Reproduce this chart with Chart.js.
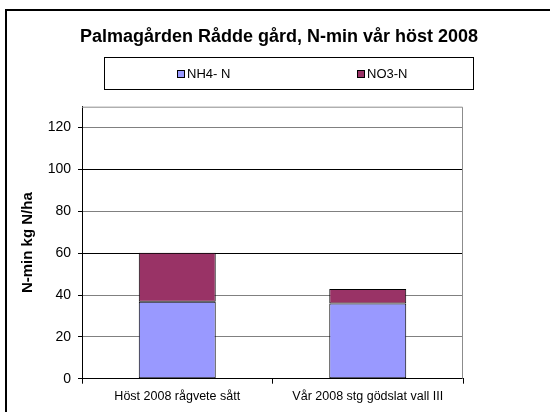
<!DOCTYPE html>
<html>
<head>
<meta charset="utf-8">
<script src="https://cdn.jsdelivr.net/npm/chart.js@4/dist/chart.umd.min.js"></script>
<style>
  html, body { margin: 0; padding: 0; background: #fff; }
  #c { display: block; }
</style>
</head>
<body>
<canvas id="c" width="550" height="412"></canvas>
<script>
const categories = ['Höst 2008 rågvete sått', 'Vår 2008 stg gödslat vall III'];
const seriesLabels = ['NH4- N', 'NO3-N'];
const nh4Values = [36.8, 36.0];
const no3Values = [23.4, 6.9];
const yTickValues = [0, 20, 40, 60, 80, 100, 120];
const yMax = 130;
const titleText = 'Palmagården Rådde gård, N-min vår höst 2008';
const yTitleText = 'N-min kg N/ha';

const FONT = "Arial, 'Liberation Sans', sans-serif";

const framePlugin = {
  id: 'frame',
  beforeDraw(chart) {
    const ctx = chart.ctx;
    ctx.save();
    ctx.fillStyle = '#fff';
    ctx.fillRect(0, 0, chart.width, chart.height);
    ctx.strokeStyle = '#000';
    ctx.lineWidth = 2;
    ctx.strokeRect(6, 10, 600, 500);
    ctx.restore();
  },
  afterDatasetsDraw(chart) {
    const a = chart.chartArea;
    const ctx = chart.ctx;
    ctx.save();
    ctx.strokeStyle = '#8c8c8c';
    ctx.lineWidth = 1;
    ctx.beginPath();
    ctx.moveTo(a.left, a.top + 0.5);
    ctx.lineTo(a.right - 0.5, a.top + 0.5);
    ctx.lineTo(a.right - 0.5, a.bottom);
    ctx.stroke();
    ctx.restore();
  }
};

const legendPlugin = {
  id: 'boxLegend',
  afterDraw(chart) {
    const ctx = chart.ctx;
    const box = { x: 104.5, y: 57.5, w: 369, h: 32 };
    const itemX = [177, 357];
    ctx.save();
    ctx.strokeStyle = '#000';
    ctx.lineWidth = 1;
    ctx.strokeRect(box.x, box.y, box.w, box.h);
    ctx.font = '13px ' + FONT;
    ctx.textBaseline = 'middle';
    chart.data.datasets.forEach((ds, i) => {
      const mx = itemX[i];
      const my = 70;
      ctx.fillStyle = ds.backgroundColor;
      ctx.fillRect(mx + 0.5, my + 0.5, 7, 7);
      ctx.strokeStyle = '#000';
      ctx.strokeRect(mx + 0.5, my + 0.5, 7, 7);
      ctx.fillStyle = '#000';
      ctx.fillText(ds.label, mx + 10, 74);
    });
    ctx.restore();
  }
};

new Chart(document.getElementById('c'), {
  type: 'bar',
  data: {
    labels: categories,
    datasets: [
      {
        label: seriesLabels[0],
        data: nh4Values,
        backgroundColor: '#9999FF',
        borderColor: '#000',
        borderWidth: 1,
        borderSkipped: false,
        categoryPercentage: 1,
        barPercentage: 0.404
      },
      {
        label: seriesLabels[1],
        data: no3Values,
        backgroundColor: '#993366',
        borderColor: '#000',
        borderWidth: 1,
        borderSkipped: false,
        categoryPercentage: 1,
        barPercentage: 0.404
      }
    ]
  },
  options: {
    responsive: false,
    animation: false,
    devicePixelRatio: 1,
    layout: { padding: { left: 8, right: 0, top: 0, bottom: 0 } },
    plugins: {
      legend: { display: false },
      tooltip: { enabled: false },
      title: {
        display: true,
        text: titleText,
        color: '#000',
        font: { family: FONT, size: 18, weight: 'bold' },
        padding: { top: 26.2, bottom: 58.9 }
      }
    },
    scales: {
      x: {
        stacked: true,
        grid: { offset: true, drawOnChartArea: false, drawTicks: true, tickLength: 5, color: '#000' },
        border: { color: '#000', width: 1 },
        ticks: {
          color: '#000',
          font: { family: FONT, size: 12.5 },
          padding: 5,
          maxRotation: 0,
          autoSkip: false
        },
        afterFit(scale) { scale.height = 33.3; }
      },
      y: {
        stacked: true,
        min: 0,
        max: yMax,
        afterBuildTicks(scale) { scale.ticks = yTickValues.map(v => ({ value: v })); },
        afterFit(scale) { scale.width = 74; },
        grid: {
          color: (c) => (c.tick && (c.tick.value === 100 || c.tick.value === 60)) ? '#000' : '#808080',
          tickColor: '#000',
          tickLength: 4
        },
        border: { color: '#000', width: 1 },
        ticks: {
          color: '#000',
          font: { family: FONT, size: 14 },
          padding: 7
        },
        title: {
          display: true,
          text: yTitleText,
          color: '#000',
          font: { family: FONT, size: 15, weight: 'bold' },
          padding: { top: 11, bottom: 0 }
        }
      },
      yR: {
        position: 'right',
        display: true,
        grid: { display: false, drawTicks: false },
        border: { display: false },
        ticks: { display: false },
        afterFit(scale) { scale.width = 87; }
      }
    }
  },
  plugins: [framePlugin, legendPlugin]
});
</script>
</body>
</html>
